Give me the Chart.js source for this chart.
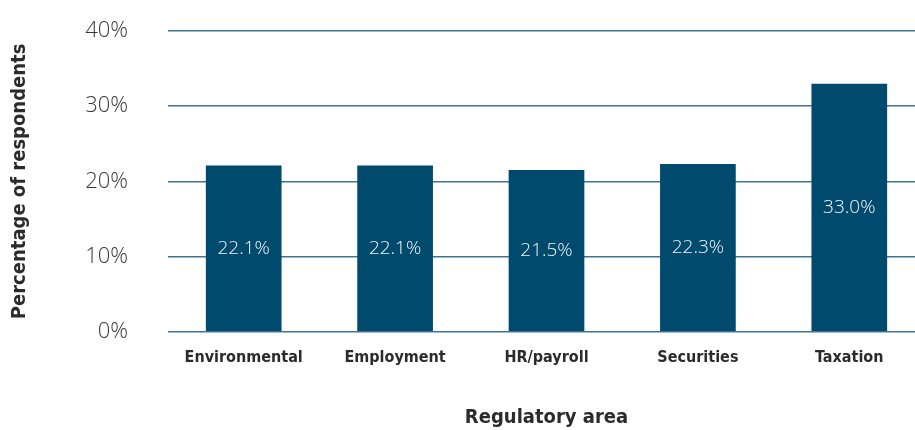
<!DOCTYPE html>
<html>
<head>
<meta charset="utf-8">
<script src="https://cdn.jsdelivr.net/npm/chart.js@4"></script>
<style>
  html, body { margin: 0; padding: 0; background: #fff; overflow: hidden; }
  #wrap { width: 925px; height: 430px; }
</style>
</head>
<body>
<div id="wrap"><canvas id="areaChart"></canvas></div>
<script>
  // share of respondents by regulatory area
  const areas = ["Environmental", "Employment", "HR/payroll", "Securities", "Taxation"];
  const shares = [22.1, 22.1, 21.5, 22.3, 33.0];
  const yTicks = [0, 10, 20, 30, 40];

  const navy = "#004a6e";
  const gridBlue = "#3f7497";
  const narrowBold = "'Liberation Sans Narrow', 'DejaVu Sans Condensed', sans-serif";

  // white value labels in the middle of each bar
  const barLabels = {
    id: "barLabels",
    afterDatasetsDraw(chart) {
      const ctx = chart.ctx;
      const meta = chart.getDatasetMeta(0);
      ctx.save();
      ctx.fillStyle = "#f2f6f8";
      ctx.font = "300 19px 'Open Sans', sans-serif";
      ctx.textAlign = "center";
      ctx.textBaseline = "middle";
      meta.data.forEach((bar, i) => {
        const mid = (bar.y + bar.base) / 2;
        ctx.fillText(shares[i].toFixed(1) + "%", bar.x, mid);
      });
      ctx.restore();
    }
  };

  new Chart(document.getElementById("areaChart"), {
    type: "bar",
    data: {
      labels: areas,
      datasets: [{
        data: shares,
        backgroundColor: navy,
        barPercentage: 0.5,
        categoryPercentage: 1.0
      }]
    },
    options: {
      responsive: true,
      maintainAspectRatio: false,
      animation: false,
      layout: { padding: { top: 31, right: 0, bottom: 0, left: 8 } },
      plugins: {
        legend: { display: false },
        tooltip: { enabled: false }
      },
      scales: {
        x: {
          grid: { display: false, drawTicks: false },
          border: { display: false },
          ticks: {
            color: "#2b2b2b",
            padding: 16,
            font: { family: narrowBold, size: 16, weight: "bold" }
          },
          title: {
            display: true,
            text: "Regulatory area",
            color: "#2b2b2b",
            padding: { top: 23, bottom: 0 },
            font: { family: narrowBold, size: 20, weight: "bold" }
          }
        },
        y: {
          min: 0,
          max: 40,
          afterBuildTicks(scale) {
            scale.ticks = yTicks.map(v => ({ value: v }));
          },
          afterFit(scale) {
            scale.width = 160;
          },
          // invisible tick marks keep the gap between labels and plot
          grid: { color: gridBlue, lineWidth: 1.5, drawTicks: true, tickLength: 40, tickColor: "rgba(0,0,0,0)" },
          border: { display: false },
          ticks: {
            color: "#383838",
            padding: 0,
            font: { family: "'Open Sans', sans-serif", size: 22, weight: "300" },
            callback: v => v + "%"
          },
          title: {
            display: true,
            text: "Percentage of respondents",
            color: "#2b2b2b",
            padding: { top: 0, bottom: 0 },
            font: { family: narrowBold, size: 20, weight: "bold" }
          }
        }
      }
    },
    plugins: [barLabels]
  });
</script>
</body>
</html>
